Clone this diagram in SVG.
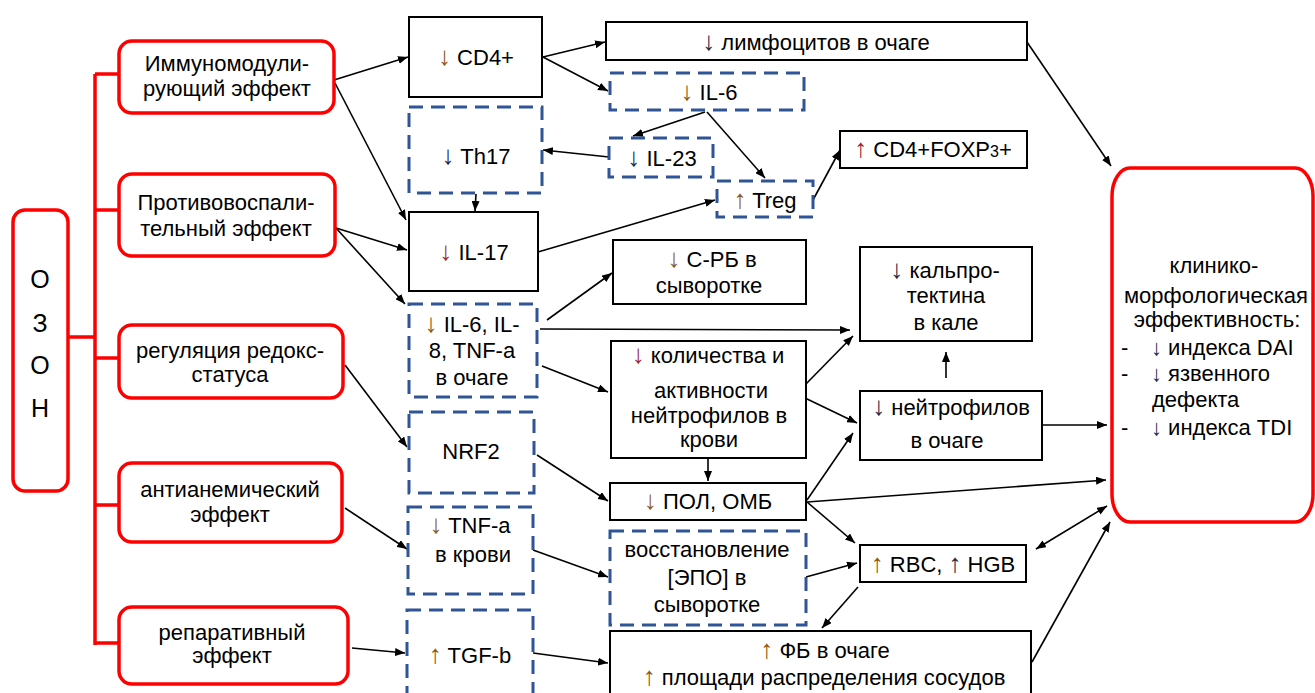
<svg xmlns="http://www.w3.org/2000/svg" width="1315" height="693" viewBox="0 0 1315 693">
<defs>
<marker id="ah" viewBox="0 0 10 8" refX="10" refY="4" markerWidth="10" markerHeight="8" markerUnits="userSpaceOnUse" orient="auto-start-reverse">
<path d="M0,0 L10,4 L0,8 z" fill="#000"/>
</marker>
<style>
.t{font-family:"Liberation Sans",Arial,sans-serif;font-size:22px;fill:#000;text-anchor:middle}
.l{text-anchor:start}
.box{fill:#fff;stroke:#000;stroke-width:2}
.dash{fill:#fff;stroke:#2F5597;stroke-width:3;stroke-dasharray:14 8}
.red{fill:#fff;stroke:#FF0000;stroke-width:3.5}
.br{fill:none;stroke:#FF0000;stroke-width:3.5}
.c{fill:none;stroke:#000;stroke-width:1.6;marker-end:url(#ah)}
.cc{fill:none;stroke:#000;stroke-width:1.6;marker-end:url(#ah);marker-start:url(#ah)}
.ab,.ar,.ad{font-size:26px}
.ab{fill:#8B5A14}
.ar{fill:#A0282B}
.ad{fill:#1F2A44}
.sm{font-size:22px}
</style>
</defs>

<g id="connectors">
<path class="br" d="M68,337 H95 M95,74 V645 M95,74 H119 M95,210 H119 M95,358 H119 M95,505 H119 M95,643 H119"/>
<line class="c" x1="334" y1="80" x2="408" y2="57"/>
<line class="c" x1="335" y1="83" x2="406" y2="220"/>
<line class="c" x1="336" y1="228" x2="407" y2="250"/>
<line class="c" x1="336" y1="228" x2="405" y2="304"/>
<line class="c" x1="345" y1="365" x2="407" y2="447"/>
<line class="c" x1="345" y1="508" x2="407" y2="549"/>
<line class="c" x1="352" y1="648" x2="405" y2="653"/>
<line class="c" x1="543" y1="57" x2="605" y2="42"/>
<line class="c" x1="543" y1="57" x2="608" y2="91"/>
<line class="c" x1="705" y1="112" x2="633" y2="136"/>
<line class="c" x1="707" y1="112" x2="765" y2="178"/>
<line class="c" x1="609" y1="157" x2="543" y2="150"/>
<line class="c" x1="476" y1="194" x2="475" y2="211"/>
<line class="c" x1="538" y1="252" x2="715" y2="200"/>
<line class="c" x1="813" y1="200" x2="840" y2="150"/>
<line class="c" x1="1027" y1="42" x2="1111" y2="166"/>
<line class="c" x1="547" y1="320" x2="612" y2="273"/>
<line class="c" x1="540" y1="329" x2="850" y2="330"/>
<line class="c" x1="542" y1="366" x2="608" y2="392"/>
<line class="c" x1="805" y1="385" x2="853" y2="336"/>
<line class="c" x1="805" y1="398" x2="857" y2="423"/>
<line class="c" x1="708" y1="459" x2="708" y2="481"/>
<line class="c" x1="537" y1="455" x2="608" y2="501"/>
<line class="c" x1="807" y1="500" x2="853" y2="433"/>
<line class="c" x1="807" y1="502" x2="1106" y2="480"/>
<line class="c" x1="807" y1="502" x2="855" y2="543"/>
<line class="c" x1="806" y1="577" x2="857" y2="563"/>
<line class="c" x1="858" y1="587" x2="822" y2="628"/>
<line class="cc" x1="1036" y1="549" x2="1107" y2="506"/>
<line class="c" x1="1032" y1="662" x2="1110" y2="522"/>
<line class="c" x1="1043" y1="425" x2="1107" y2="425"/>
<line class="c" x1="946" y1="378" x2="946" y2="352"/>
<line class="c" x1="533" y1="550" x2="608" y2="577"/>
<line class="c" x1="533" y1="653" x2="608" y2="663"/>
</g>

<g id="ozon">
<rect class="red" x="13" y="210" width="55" height="281" rx="12"/>
<text class="t" style="font-size:25px" x="40" y="288">О</text>
<text class="t" style="font-size:25px" x="40" y="332">З</text>
<text class="t" style="font-size:25px" x="40" y="374">О</text>
<text class="t" style="font-size:25px" x="40" y="417">Н</text>
</g>

<g id="immuno">
<rect class="red" x="119" y="41" width="215" height="72" rx="13"/>
<text class="t" x="227" y="71">Иммуномодули-</text>
<text class="t" x="227" y="96">рующий эффект</text>
</g>
<g id="antiinfl">
<rect class="red" x="119" y="174" width="216" height="82" rx="13"/>
<text class="t" x="226" y="210">Противовоспали-</text>
<text class="t" x="226" y="236">тельный эффект</text>
</g>
<g id="redox">
<rect class="red" x="119" y="325" width="224" height="73" rx="13"/>
<text class="t" x="230" y="358">регуляция редокс-</text>
<text class="t" x="230" y="382">статуса</text>
</g>
<g id="antianem">
<rect class="red" x="119" y="463" width="223" height="79" rx="13"/>
<text class="t" x="230" y="497">антианемический</text>
<text class="t" x="230" y="522">эффект</text>
</g>
<g id="repar">
<rect class="red" x="119" y="607" width="229" height="77" rx="13"/>
<text class="t" x="232" y="640">репаративный</text>
<text class="t" x="232" y="663">эффект</text>
</g>

<g id="cd4">
<rect class="box" x="409" y="17" width="133" height="80"/>
<text class="t" x="476" y="65"><tspan class="ab">↓</tspan> CD4+</text>
</g>
<g id="th17">
<rect class="dash" x="409" y="107" width="133" height="86"/>
<text class="t" x="476" y="164"><tspan class="ad">↓</tspan> Th17</text>
</g>
<g id="il17">
<rect class="box" x="409" y="212" width="129" height="79"/>
<text class="t" x="474" y="260"><tspan class="ar">↓</tspan> IL-17</text>
</g>
<g id="il6-8">
<rect class="dash" x="409" y="304" width="128" height="93"/>
<text class="t" x="472" y="332"><tspan class="ab">↓</tspan> IL-6, IL-</text>
<text class="t" x="472" y="358">8, TNF-a</text>
<text class="t" x="472" y="385">в очаге</text>
</g>
<g id="nrf2">
<rect class="dash" x="409" y="412" width="125" height="81"/>
<text class="t" x="471" y="459">NRF2</text>
</g>
<g id="tnf-blood">
<rect class="dash" x="408" y="507" width="125" height="87"/>
<text class="t" x="470" y="533"><tspan class="ab">↓</tspan> TNF-a</text>
<text class="t" x="473" y="562">в крови</text>
</g>
<g id="tgfb">
<rect class="dash" x="407" y="610" width="126" height="95"/>
<text class="t" x="470" y="663"><tspan class="ab">↑</tspan> TGF-b</text>
</g>

<g id="lymph">
<rect class="box" x="606" y="22" width="421" height="38"/>
<text class="t" x="816" y="50"><tspan class="ad">↓</tspan> лимфоцитов в очаге</text>
</g>
<g id="il6">
<rect class="dash" x="610" y="73" width="194" height="37"/>
<text class="t" x="709" y="100"><tspan class="ab">↓</tspan> IL-6</text>
</g>
<g id="il23">
<rect class="dash" x="609" y="138" width="104" height="39"/>
<text class="t" x="662" y="166"><tspan class="ad">↓</tspan> IL-23</text>
</g>
<g id="treg">
<rect class="dash" x="717" y="181" width="96" height="36"/>
<text class="t" x="765" y="208"><tspan class="ab">↑</tspan> Treg</text>
</g>
<g id="foxp3">
<rect class="box" x="840" y="131" width="187" height="37"/>
<text class="t" x="933" y="157"><tspan class="ar">↑</tspan> CD4+FOXP<tspan style="font-size:16px">3</tspan>+</text>
</g>
<g id="crp">
<rect class="box" x="613" y="240" width="193" height="64"/>
<text class="t" x="712" y="267"><tspan class="ab">↓</tspan> C-РБ в</text>
<text class="t" x="709" y="293">сыворотке</text>
</g>
<g id="neutro-blood">
<rect class="box" x="611" y="341" width="195" height="117"/>
<text class="t" x="708" y="363"><tspan class="ar">↓</tspan> количества и</text>
<text class="t" x="711" y="398">активности</text>
<text class="t" x="709" y="423">нейтрофилов в</text>
<text class="t" x="709" y="447">крови</text>
</g>
<g id="pol">
<rect class="box" x="610" y="483" width="196" height="37"/>
<text class="t" x="708" y="509"><tspan class="ab">↓</tspan> ПОЛ, ОМБ</text>
</g>
<g id="epo">
<rect class="dash" x="610" y="531" width="196" height="94"/>
<text class="t" x="707" y="557">восстановление</text>
<text class="t" x="707" y="585">[ЭПО] в</text>
<text class="t" x="707" y="612">сыворотке</text>
</g>
<g id="fb">
<rect class="box" x="610" y="631" width="421" height="70"/>
<text class="t" x="825" y="658"><tspan class="ab">↑</tspan> ФБ в очаге</text>
<text class="t" x="824" y="685"><tspan class="ab">↑</tspan> площади распределения сосудов</text>
</g>

<g id="calpro">
<rect class="box" x="860" y="247" width="172" height="94"/>
<text class="t" x="945" y="278"><tspan class="ad">↓</tspan> кальпро-</text>
<text class="t" x="946" y="303">тектина</text>
<text class="t" x="946" y="330">в кале</text>
</g>
<g id="neutro-focus">
<rect class="box" x="860" y="391" width="182" height="69"/>
<text class="t" x="951" y="415"><tspan class="ad">↓</tspan> нейтрофилов</text>
<text class="t" x="947" y="448">в очаге</text>
</g>
<g id="rbc">
<rect class="box" x="860" y="545" width="166" height="37"/>
<text class="t" x="943" y="572"><tspan class="ab">↑</tspan> RBC, <tspan class="ad">↑</tspan> HGB</text>
</g>

<g id="outcome">
<rect class="red" x="1112" y="168" width="201" height="354" rx="18" ry="28"/>
<text class="t" x="1214" y="273">клинико-</text>
<text class="t" x="1216" y="303">морфологическая</text>
<text class="t" x="1217" y="327">эффективность:</text>
<text class="t l" x="1121" y="355">-</text>
<text class="t l" x="1151" y="355"><tspan class="ad sm">↓</tspan> индекса DAI</text>
<text class="t l" x="1121" y="381">-</text>
<text class="t l" x="1151" y="381"><tspan class="ad sm">↓</tspan> язвенного</text>
<text class="t l" x="1152" y="407">дефекта</text>
<text class="t l" x="1121" y="435">-</text>
<text class="t l" x="1151" y="435"><tspan class="ad sm">↓</tspan> индекса TDI</text>
</g>
</svg>
